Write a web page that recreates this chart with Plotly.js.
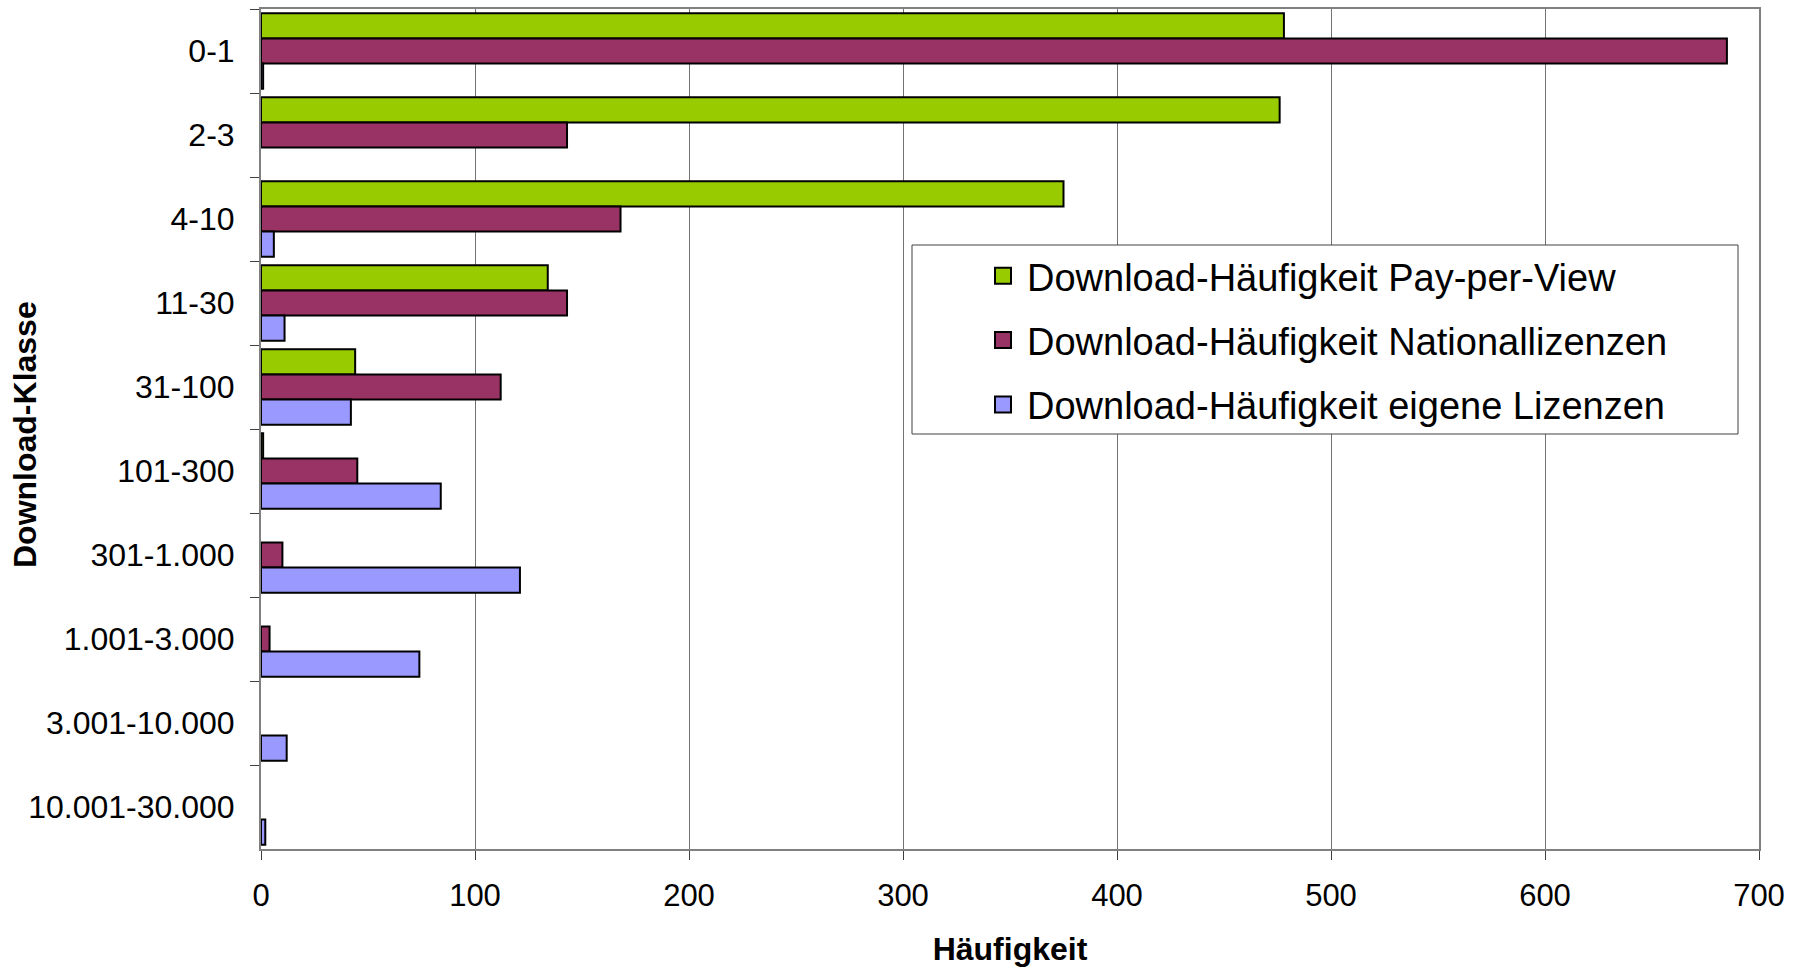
<!DOCTYPE html>
<html>
<head>
<meta charset="utf-8">
<script src="https://cdn.plot.ly/plotly-3.0.1.min.js"></script>
<style>html,body{margin:0;padding:0;background:#fff;}#chart{width:1794px;height:967px;}</style>
</head>
<body>
<div id="chart"></div>
<script>
const categories = ['0-1','2-3','4-10','11-30','31-100','101-300','301-1.000','1.001-3.000','3.001-10.000','10.001-30.000'];
const seriesNames = ['Download-Häufigkeit Pay-per-View','Download-Häufigkeit Nationallizenzen','Download-Häufigkeit eigene Lizenzen'];
const payPerView = [478, 476, 375, 134, 44, 1, 0, 0, 0, 0];
const nationallizenzen = [685, 143, 168, 143, 112, 45, 10, 4, 0, 0];
const eigeneLizenzen = [1, 0, 6, 11, 42, 84, 121, 74, 12, 2];
const xTicks = [0, 100, 200, 300, 400, 500, 600, 700];

const colors = ['#99CC00', '#993366', '#9999FF'];
const values = [payPerView, nationallizenzen, eigeneLizenzen];
const FONT = 'Liberation Sans, Arial, sans-serif';

const traces = values.map((v, i) => ({
  type: 'bar',
  orientation: 'h',
  name: seriesNames[i],
  y: categories,
  x: v,
  legendgroup: 'g' + i,
  showlegend: false,
  marker: {color: colors[i], line: {color: '#000', width: v.map(d => d === 0 ? 0 : 2)}},
  hoverinfo: 'x+y'
}));
// legend entries with square swatches like the original
values.forEach((v, i) => {
  traces.push({
    type: 'scatter', mode: 'markers',
    name: seriesNames[i],
    x: [null], y: [null],
    legendgroup: 'g' + i,
    showlegend: true,
    marker: {symbol: 'square', size: 16, color: colors[i], line: {color: '#000', width: 2}},
    hoverinfo: 'skip'
  });
});

// plot area geometry helpers (paper fractions)
const L = 261, T = 9, W = 1498, H = 840;
const px = (x) => (x - L) / W;
const py = (y) => 1 - (y - T) / H;

const layout = {
  width: 1794,
  height: 967,
  margin: {l: L, r: 1794 - L - W, t: T, b: 967 - T - H},
  paper_bgcolor: '#fff',
  plot_bgcolor: '#fff',
  barmode: 'group',
  bargap: 0.1,
  bargroupgap: 0,
  font: {family: FONT, color: '#000', size: 31},
  showlegend: true,
  legend: {
    x: px(979), y: py(244.5), xanchor: 'left', yanchor: 'top',
    xref: 'paper', yref: 'paper',
    bgcolor: 'rgba(0,0,0,0)', borderwidth: 0,
    font: {family: FONT, size: 38, color: '#000'},
    traceorder: 'grouped', tracegroupgap: 12,
    itemwidth: 38
  },
  shapes: [{
    type: 'rect', xref: 'paper', yref: 'paper', layer: 'above',
    x0: px(912), x1: px(1738), y0: py(245), y1: py(434),
    fillcolor: '#fff', line: {color: '#404040', width: 1}
  }],
  xaxis: {
    range: [0, 700],
    tickvals: xTicks,
    ticktext: xTicks.map(String),
    showgrid: true, gridcolor: '#737373', gridwidth: 1,
    showline: true, linecolor: '#808080', linewidth: 2, mirror: true,
    ticks: 'outside', ticklen: 9, tickcolor: '#404040', tickwidth: 1,
    ticklabelstandoff: 9,
    tickfont: {family: FONT, size: 31, color: '#000'},
    zeroline: false,
    title: {text: '<b>Häufigkeit</b>', font: {family: FONT, size: 32, color: '#000'}, standoff: 36}
  },
  yaxis: {
    type: 'category',
    autorange: 'reversed',
    tickson: 'boundaries',
    showgrid: false,
    showline: true, linecolor: '#808080', linewidth: 2, mirror: true,
    ticks: 'outside', ticklen: 9, tickcolor: '#404040', tickwidth: 1,
    ticklabelstandoff: 18,
    tickfont: {family: FONT, size: 32, color: '#000'},
    zeroline: false
  },
  annotations: [{
    text: '<b>Download-Klasse</b>',
    textangle: -90,
    xref: 'paper', yref: 'paper',
    x: px(25), y: py(435),
    xanchor: 'center', yanchor: 'middle',
    showarrow: false,
    font: {family: FONT, size: 32, color: '#000'}
  }]
};

Plotly.newPlot('chart', traces, layout, {displayModeBar: false, staticPlot: true});
</script>
</body>
</html>
